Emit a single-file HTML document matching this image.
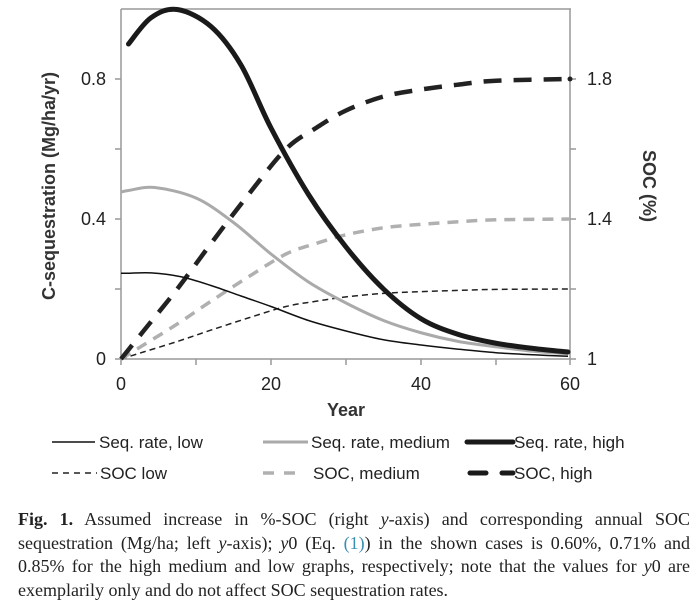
<!DOCTYPE html>
<html><head><style>
body{margin:0;background:#fff;width:700px;height:604px;overflow:hidden;font-family:"Liberation Sans",sans-serif}
.cap{position:absolute;left:18px;top:508px;width:672px;font-family:"Liberation Serif",serif;font-size:18px;line-height:23.5px;color:#222}
.cap div{text-align:justify;text-align-last:justify;white-space:nowrap}
.cap div.l{text-align-last:left}
</style></head><body>
<svg width="700" height="604" style="position:absolute;left:0;top:0" font-family="Liberation Sans, sans-serif">
<g stroke="#999" stroke-width="1.5" fill="none">
<line x1="121" y1="9" x2="571" y2="9"/>
<line x1="121" y1="9" x2="121" y2="359"/>
<line x1="570" y1="9" x2="570" y2="365"/>
<line x1="121" y1="359" x2="576" y2="359"/>
<path d="M115 79h6M115 149h6M115 219h6M115 289h6M115 359h6M570 79h6M570 149h6M570 219h6M570 289h6M121 359v6M196 359v6M271 359v6M346 359v6M421 359v6M496 359v6"/>
</g>
<g font-size="18" fill="#222">
<text x="106" y="365" text-anchor="end">0</text>
<text x="106" y="225" text-anchor="end">0.4</text>
<text x="106" y="85" text-anchor="end">0.8</text>
<text x="587" y="365">1</text>
<text x="587" y="225">1.4</text>
<text x="587" y="85">1.8</text>
<text x="121" y="390" text-anchor="middle">0</text>
<text x="271" y="390" text-anchor="middle">20</text>
<text x="421" y="390" text-anchor="middle">40</text>
<text x="570" y="390" text-anchor="middle">60</text>
</g>
<text x="346" y="416" text-anchor="middle" font-size="18" font-weight="bold" fill="#333">Year</text>
<text transform="translate(55,186) rotate(-90)" text-anchor="middle" font-size="18" font-weight="bold" fill="#333">C-sequestration (Mg/ha/yr)</text>
<text transform="translate(643,186) rotate(90)" text-anchor="middle" font-size="18" font-weight="bold" fill="#333">SOC (%)</text>
<g fill="none" stroke-linejoin="round" id="curves">
<polyline class="s" stroke="#222" stroke-width="1.5" stroke-dasharray="6,4" points="121,359 143.5,352 177.25,341.5 211,330.1 248.5,317.9 286,306.5 316,301.3 346,296.9 383.5,293.4 421,291.6 458.5,290.4 496,289.4 570,289"/>
<polyline class="s" stroke="#b0b0b0" stroke-width="3.5" stroke-dasharray="11,8" points="121,359 143.5,345 177.25,324 211,301.2 248.5,276.8 286,254 316,243.5 346,234.8 383.5,227.8 421,224.3 458.5,221.8 496,219.8 570,219"/>
<polyline class="s" stroke="#222" stroke-width="4.5" stroke-dasharray="18,12" points="121,359 143.5,331 177.25,289 211,243.5 248.5,194.5 286,149 316,128 346,110.5 383.5,96.5 421,89.5 458.5,84.6 496,80.7 570,79"/>
<polyline class="s" stroke="#111" stroke-width="1.5" points="121,273.3 128.5,273.25 151,272.9 181,276.75 211,285.5 241,296 271,306.5 308.5,320.5 346,331 383.5,339.75 421,345 458.5,349.2 496,352.7 533.5,354.8 568,356.2"/>
<polyline class="s" stroke="#aaa" stroke-width="3" points="121,192 128.5,190.5 154.75,187.5 196,198 233.5,222.5 271,254 308.5,282 346,303 383.5,320.5 421,332.75 458.5,341.5 496,346.75 533.5,351.3 568,353.75"/>
<polyline class="s" stroke="#1a1a1a" stroke-width="5" stroke-linecap="round" points="128.5,44 151,17.75 177.25,9.5 211,26.5 241,65 271,128 308.5,194.5 346,247 383.5,289 421,318.75 458.5,334.5 496,343.25 533.5,348.5 568,352"/>
</g>
<circle cx="570" cy="79" r="2.5" fill="#222"/>
<g font-size="17" fill="#222">
<line x1="52" y1="442" x2="95" y2="442" stroke="#111" stroke-width="1.5"/>
<text x="99" y="448">Seq. rate, low</text>
<line x1="263" y1="442" x2="308" y2="442" stroke="#aaa" stroke-width="3"/>
<text x="311" y="448">Seq. rate, medium</text>
<line x1="467" y1="442" x2="513" y2="442" stroke="#1a1a1a" stroke-width="5" stroke-linecap="round"/>
<text x="514" y="448">Seq. rate, high</text>
<line x1="52" y1="473" x2="97" y2="473" stroke="#222" stroke-width="1.5" stroke-dasharray="6,5"/>
<text x="100" y="479">SOC low</text>
<line x1="263" y1="473" x2="305" y2="473" stroke="#b0b0b0" stroke-width="3.5" stroke-dasharray="11,10"/>
<text x="313" y="479">SOC, medium</text>
<line x1="470" y1="473" x2="513" y2="473" stroke="#1a1a1a" stroke-width="5" stroke-dasharray="16,16" stroke-linecap="round"/>
<text x="514" y="479">SOC, high</text>
</g>
</svg>
<div class="cap">
<div><b>Fig. 1.</b> Assumed increase in %-SOC (right <i>y</i>-axis) and corresponding annual SOC</div>
<div>sequestration (Mg/ha; left <i>y</i>-axis); <i>y</i>0 (Eq. <span style="color:#3a8fb0">(1)</span>) in the shown cases is 0.60%, 0.71% and</div>
<div>0.85% for the high medium and low graphs, respectively; note that the values for <i>y</i>0 are</div>
<div class="l">exemplarily only and do not affect SOC sequestration rates.</div>
</div>
<script>
(function(){
var ns="http://www.w3.org/2000/svg";
document.querySelectorAll("polyline.s").forEach(function(pl){
 var p=pl.getAttribute("points").trim().split(/\s+/).map(function(s){return s.split(",").map(Number);});
 var d="M"+p[0][0]+","+p[0][1];
 for(var i=0;i<p.length-1;i++){
  var p0=p[i-1]||p[i],p1=p[i],p2=p[i+1],p3=p[i+2]||p2;
  var c1=[p1[0]+(p2[0]-p0[0])/6,p1[1]+(p2[1]-p0[1])/6];
  var c2=[p2[0]-(p3[0]-p1[0])/6,p2[1]-(p3[1]-p1[1])/6];
  d+=" C"+c1[0].toFixed(2)+","+c1[1].toFixed(2)+" "+c2[0].toFixed(2)+","+c2[1].toFixed(2)+" "+p2[0]+","+p2[1];
 }
 var path=document.createElementNS(ns,"path");
 for(var j=0;j<pl.attributes.length;j++){var a=pl.attributes[j];if(a.name!="points"&&a.name!="class")path.setAttribute(a.name,a.value);}
 path.setAttribute("d",d);
 pl.parentNode.replaceChild(path,pl);
});
})();
</script>
</body></html>
